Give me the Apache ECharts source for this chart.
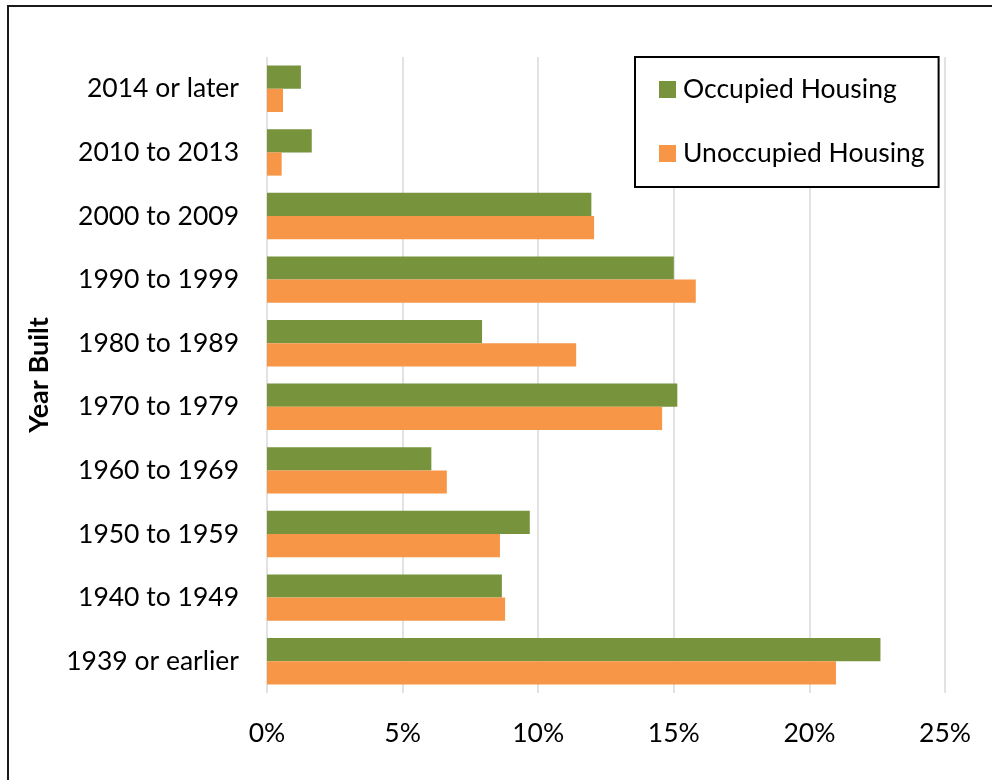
<!DOCTYPE html>
<html>
<head>
<meta charset="utf-8">
<script src="https://cdn.jsdelivr.net/npm/echarts@6/dist/echarts.min.js"></script>
<style>
html,body{margin:0;padding:0;background:#fff;}
#chart{width:992px;height:780px;}
</style>
</head>
<body>
<div id="chart"></div>
<script>
const categories = ['2014 or later','2010 to 2013','2000 to 2009','1990 to 1999','1980 to 1989','1970 to 1979','1960 to 1969','1950 to 1959','1940 to 1949','1939 or earlier'];
const occupied = [1.25, 1.65, 11.96, 15.0, 7.93, 15.13, 6.06, 9.69, 8.66, 22.62];
const unoccupied = [0.59, 0.54, 12.06, 15.81, 11.4, 14.57, 6.63, 8.59, 8.78, 20.98];
const xTicks = [0, 5, 10, 15, 20, 25];

const FONT = 'Lato';
const chart = echarts.init(document.getElementById('chart'), null, {renderer:'canvas'});
chart.setOption({
  backgroundColor: '#ffffff',
  animation: false,
  textStyle: {fontFamily: FONT},
  graphic: [{
    type: 'rect', z: 0, silent: true,
    shape: {x: 8, y: 6, width: 1200, height: 1200},
    style: {fill: 'none', stroke: '#1a1a1a', lineWidth: 2}
  }],
  grid: {left: 267, right: 47, top: 57, bottom: 87, containLabel: false},
  legend: {
    orient: 'vertical',
    left: 635, top: 57,
    padding: [19, 14, 20, 24],
    itemGap: 37,
    itemWidth: 17, itemHeight: 17,
    icon: 'rect',
    backgroundColor: '#ffffff',
    borderColor: '#000000',
    borderWidth: 2,
    textStyle: {fontFamily: FONT, fontSize: 26.5, color: '#000', padding: [0,0,0,2]},
    data: ['Occupied Housing', 'Unoccupied Housing']
  },
  xAxis: {
    type: 'value',
    min: xTicks[0], max: xTicks[xTicks.length-1], interval: xTicks[1]-xTicks[0],
    axisLine: {show: false},
    axisTick: {show: false},
    splitLine: {show: true, lineStyle: {color: '#d9d9d9', width: 1.5}},
    axisLabel: {formatter: '{value}%', fontFamily: FONT, fontSize: 26.5, color: '#000', margin: 27}
  },
  yAxis: {
    type: 'category',
    inverse: true,
    data: categories,
    axisLine: {show: false},
    axisTick: {show: false},
    axisLabel: {fontFamily: FONT, fontSize: 26.5, color: '#000', margin: 28},
    name: 'Year Built',
    nameLocation: 'middle',
    nameRotate: 90,
    nameGap: 214,
    nameTextStyle: {fontFamily: FONT, fontSize: 27, fontWeight: 'bold', color: '#000'}
  },
  series: [
    {name: 'Occupied Housing', type: 'bar', data: occupied, barGap: '0%', barCategoryGap: '27%',
     itemStyle: {color: '#77933C'}},
    {name: 'Unoccupied Housing', type: 'bar', data: unoccupied, barGap: '0%', barCategoryGap: '27%',
     itemStyle: {color: '#F79646'}}
  ]
});
</script>
</body>
</html>
